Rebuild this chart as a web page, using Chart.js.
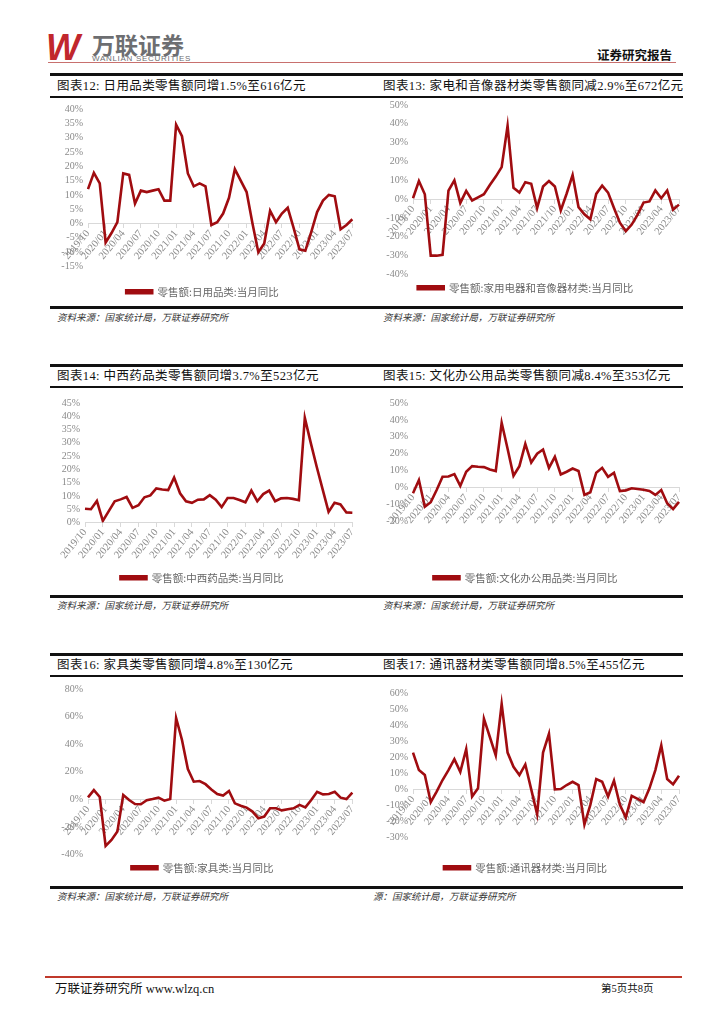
<!DOCTYPE html>
<html>
<head>
<meta charset="utf-8">
<script src="https://cdn.jsdelivr.net/npm/chart.js"></script>
<style>
  body { margin: 0; background: #fff; }
  #page { position: relative; width: 724px; height: 1024px; overflow: hidden; font-family: "Liberation Serif", "Noto Sans CJK SC", serif; }
  .abs { position: absolute; white-space: nowrap; }
  .thick { position: absolute; left: 50px; width: 633px; height: 2.5px; background: #111; }
  .thin { position: absolute; left: 50px; width: 633px; height: 1.5px; background: #111; }
  .title { position: absolute; font-size: 12.5px; line-height: 16px; color: #111; letter-spacing: 0.4px; white-space: nowrap; }
  .src { position: absolute; font-size: 9.5px; line-height: 12px; color: #333; font-style: italic; white-space: nowrap; }
  .box { position: absolute; }
</style>
</head>
<body>
<div id="page">
  <div class="abs" style="left:46px;top:27px;font:italic bold 36px 'Liberation Sans';color:#c1272d;letter-spacing:-3px;">W</div>
  <div class="abs" style="left:92px;top:31px;font:bold 23px 'Noto Sans CJK SC';color:#6d6e71;line-height:26px;">万联证券</div>
  <div class="abs" style="left:92px;top:54px;font:8px 'Liberation Sans';color:#6d6e71;letter-spacing:0.7px;">WANLIAN SECURITIES</div>
  <div class="abs" style="left:597px;top:47px;font:bold 12.5px 'Noto Sans CJK SC';color:#111;line-height:16px;">证券研究报告</div>
  <div class="abs" style="left:48px;top:62px;width:628px;height:1px;background:#c8706e;"></div>

  <div class="thick" style="top:73px"></div>
  <div class="title" style="left:57px;top:78px">图表12: 日用品类零售额同增1.5%至616亿元</div>
  <div class="title" style="left:383px;top:78px">图表13: 家电和音像器材类零售额同减2.9%至672亿元</div>
  <div class="thin" style="top:96px"></div>
  <div class="thick" style="top:306px"></div>
  <div class="src" style="left:57px;top:312px">资料来源：国家统计局，万联证券研究所</div>
  <div class="src" style="left:383px;top:312px">资料来源：国家统计局，万联证券研究所</div>

  <div class="thick" style="top:364px"></div>
  <div class="title" style="left:57px;top:368px">图表14: 中西药品类零售额同增3.7%至523亿元</div>
  <div class="title" style="left:383px;top:368px">图表15: 文化办公用品类零售额同减8.4%至353亿元</div>
  <div class="thin" style="top:386px"></div>
  <div class="thick" style="top:595px"></div>
  <div class="src" style="left:57px;top:600px">资料来源：国家统计局，万联证券研究所</div>
  <div class="src" style="left:383px;top:600px">资料来源：国家统计局，万联证券研究所</div>

  <div class="thick" style="top:653px"></div>
  <div class="title" style="left:57px;top:657px">图表16: 家具类零售额同增4.8%至130亿元</div>
  <div class="title" style="left:383px;top:657px">图表17: 通讯器材类零售额同增8.5%至455亿元</div>
  <div class="thin" style="top:675px"></div>
  <div class="thick" style="top:886px"></div>
  <div class="src" style="left:57px;top:891px">资料来源：国家统计局，万联证券研究所</div>
  <div class="src" style="left:373px;top:891px">源：国家统计局，万联证券研究所</div>

  <div class="abs" style="left:45px;top:976px;width:637px;height:2px;background:#c0392b;"></div>
  <div class="abs" style="left:55px;top:981px;font-size:12.5px;line-height:16px;color:#111;">万联证券研究所 www.wlzq.cn</div>
  <div class="abs" style="left:601px;top:982px;font-size:10.5px;line-height:14px;color:#111;">第5页共8页</div>

  <div class="box" style="left:50px;top:98px;width:312px;height:209px"><canvas id="c12"></canvas></div>
  <div class="box" style="left:372px;top:94px;width:318px;height:209px"><canvas id="c13"></canvas></div>
  <div class="box" style="left:50px;top:392px;width:312px;height:201px"><canvas id="c14"></canvas></div>
  <div class="box" style="left:372px;top:392px;width:318px;height:201px"><canvas id="c15"></canvas></div>
  <div class="box" style="left:50px;top:678px;width:312px;height:205px"><canvas id="c16"></canvas></div>
  <div class="box" style="left:372px;top:682px;width:318px;height:201px"><canvas id="c17"></canvas></div>
</div>

<script>
const months = ['2019/10','2019/11','2019/12',
  '2020/01','2020/02','2020/03','2020/04','2020/05','2020/06','2020/07','2020/08','2020/09','2020/10','2020/11','2020/12',
  '2021/01','2021/02','2021/03','2021/04','2021/05','2021/06','2021/07','2021/08','2021/09','2021/10','2021/11','2021/12',
  '2022/01','2022/02','2022/03','2022/04','2022/05','2022/06','2022/07','2022/08','2022/09','2022/10','2022/11','2022/12',
  '2023/01','2023/02','2023/03','2023/04','2023/05','2023/06','2023/07'];

// 零售额 当月同比 (%)
const dailyUse = [12,17.7,14,-6.6,-3.3,0.5,17.5,17,7,11.5,11,11.5,12,8,8,34.5,30.5,17.5,13,14,13,-0.5,0.5,3.5,9,19,15,11,0,-10,-7,4.5,0.5,3.5,5.5,-1.5,-9,-9.5,-3,4,8,10,9.5,-2,-0.5,1.5];
const appliance = [0.5,9.6,2.6,-30,-30,-29.6,4.5,10,-2,4.4,-0.7,1,2.6,7.5,12,17,39,6,3.5,9,8.2,-4.7,6.7,9.6,6.7,-6,3,12.8,-4.2,-8,-10.7,2.8,7.2,3.5,-4.7,-12.5,-17,-13.5,-8.2,-1.8,-1.2,4.6,0.5,4.6,-5.6,-2.9];
const medicine = [5.2,5,8.1,0.6,4.3,8,8.7,9.6,5.5,6.5,9.5,10.2,12.8,12.4,12.2,16.9,11,8,7.4,8.6,8.7,10.3,8.6,5.8,9.2,9.2,8.5,7.6,12,8,10.7,12,8,9.1,9.2,8.9,8.4,39.4,30,21,12.5,4,7.4,6.8,3.8,3.7];
const office = [-3.3,4.5,-11.3,-8.6,-1.4,6.4,6.6,8,1,9.4,12.7,12.3,12.1,10.7,9.8,38.3,23,7,12.7,25.8,14.8,20,22.5,11.7,18.2,7.8,9.4,11.3,9.8,-4.3,-2.7,8.8,11.7,6.4,8.8,-2,-1.6,-0.4,-0.8,-1.2,-2,-4.3,-1.4,-9.2,-12.7,-8.4];
const furniture = [1.4,6.7,1.7,-33.7,-29.4,-23.4,3.1,-0.5,-3.4,-3.6,-0.7,0.2,1.2,-1,0.2,59,43,22,12.8,13.3,11,7.2,3.9,2.7,6,-2.9,-4.6,-6,-8.9,-13.7,-12.5,-6.5,-6.5,-8,-7.2,-6.5,-4,-5.8,-0.5,5.5,3.6,3.9,5.5,1.2,0.2,4.8];
const telecom = [22.9,12,8.9,-8,-1.4,5.8,12,18.8,10.9,25,-4.5,0.6,44,32.6,21.2,53.2,22.9,14,8.9,15.5,0,-15.5,22.9,34.6,0,0.2,2.7,4.7,2.7,-22,-9.7,6.4,4.7,-4.5,5.4,-9.7,-17.5,-4.1,-6,-8,0.6,12,27.4,6.4,3.1,8.5];

const LINE = '#a00c10';
const TICK = '#8a8a8a';

function makeChart(id, name, values, yMin, yMax, step, yWidth, padRight, legendPad) {
  new Chart(document.getElementById(id), {
    type: 'line',
    data: {
      labels: months,
      datasets: [{
        label: name,
        data: values,
        borderColor: LINE,
        backgroundColor: LINE,
        borderWidth: 2.6,
        pointRadius: 0,
        tension: 0
      }]
    },
    options: {
      responsive: true,
      maintainAspectRatio: false,
      animation: false,
      layout: { padding: { top: 10, right: padRight, left: 0, bottom: 0 } },
      plugins: {
        tooltip: { enabled: false },
        legend: {
          position: 'bottom',
          labels: {
            boxWidth: 26, boxHeight: 3, padding: legendPad,
            color: '#666', font: { family: 'Noto Sans CJK SC', size: 10.5 }
          }
        }
      },
      scales: {
        x: {
          position: { y: 0 },
          offset: false,
          border: { display: true, color: '#d9d9d9', width: 1 },
          grid: {
            display: true, drawOnChartArea: false, drawTicks: true, tickLength: 4,
            color: ctx => (ctx.index % 3 === 0 ? '#d9d9d9' : 'rgba(0,0,0,0)')
          },
          ticks: {
            autoSkip: false, maxRotation: 50, minRotation: 50, padding: 0,
            color: TICK, font: { family: 'Liberation Serif', size: 10.5 },
            callback: (v, i) => (i % 3 === 0 ? months[i] : '')
          }
        },
        y: {
          min: yMin, max: yMax,
          border: { display: false },
          grid: { display: false, drawTicks: false },
          afterFit: s => { s.width = yWidth; },
          ticks: {
            stepSize: step, padding: 5, autoSkip: false,
            color: TICK, font: { family: 'Liberation Serif', size: 10 },
            callback: v => v + '%'
          }
        }
      }
    }
  });
}

makeChart('c12', '零售额:日用品类:当月同比', dailyUse, -15, 40, 5, 38, 7, 20);
makeChart('c13', '零售额:家用电器和音像器材类:当月同比', appliance, -40, 50, 10, 41, 11, 8);
makeChart('c14', '零售额:中西药品类:当月同比', medicine, 0, 45, 5, 35, 8, 50);
makeChart('c15', '零售额:文化办公用品类:当月同比', office, -20, 50, 10, 41, 11, 51);
makeChart('c16', '零售额:家具类:当月同比', furniture, -40, 80, 20, 38, 7, 8);
makeChart('c17', '零售额:通讯器材类:当月同比', telecom, -30, 60, 10, 41, 11, 25);
</script>
</body>
</html>
